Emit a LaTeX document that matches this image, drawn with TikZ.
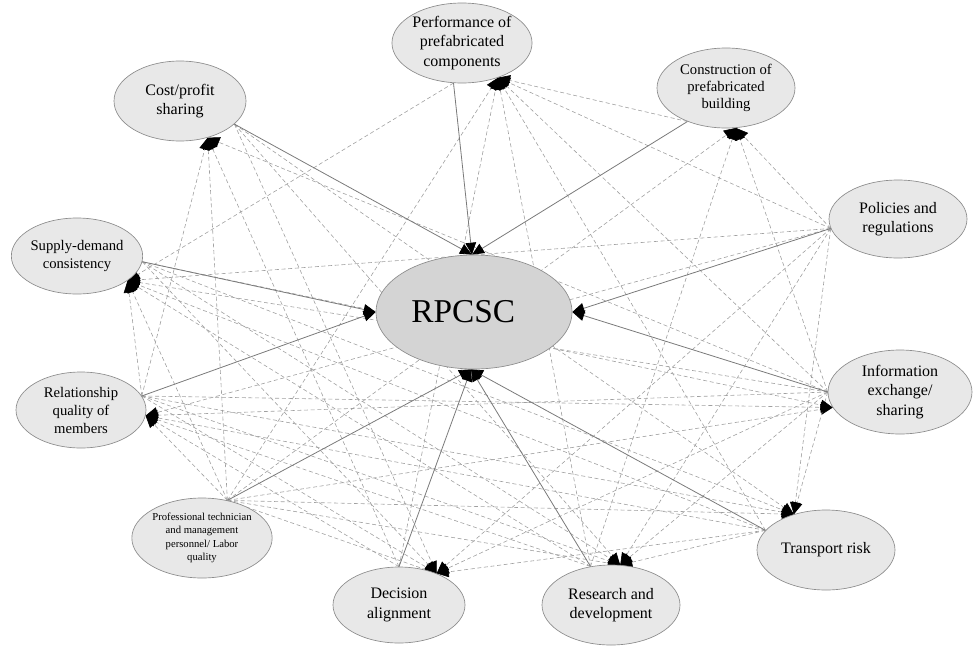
\documentclass[tikz,border=0pt]{standalone}
\usepackage{fontspec}
\setmainfont{Liberation Serif}
\usetikzlibrary{arrows.meta,shapes.geometric,backgrounds}
\definecolor{FacFill}{HTML}{E8E8E8}
\definecolor{CoreFill}{HTML}{D4D4D4}
\definecolor{RimGray}{HTML}{8C8C8C}
\definecolor{LinkGray}{HTML}{A0A0A0}
\definecolor{SolidGray}{HTML}{7A7A7A}

\begin{document}
\begin{tikzpicture}[x=0.75pt,y=-0.75pt,
    factor/.style={ellipse,draw=RimGray,fill=FacFill,inner sep=0pt,align=center,
      line width=0.5pt,font=\fontsize{12}{14.5}\selectfont},
    core/.style={factor,fill=CoreFill,font=\fontsize{25}{30}\selectfont},
    solidarr/.style={-{Triangle[length=9pt,width=8pt,color=black]},
      color=SolidGray,line width=0.6pt},
    dasharr/.style={-{Triangle[length=9pt,width=8pt,color=black]},
      color=LinkGray,line width=0.45pt,dash pattern=on 3pt off 2pt}
  ]
  \useasboundingbox (0,0) rectangle (973,646);

  % factors
  \node[core,minimum width=147pt,minimum height=85.5pt] (rpcsc) at (474,312) {RPCSC\hspace*{16pt}};
  \node[factor,minimum width=99pt,minimum height=60pt] (cost) at (180,101) {Cost/profit\\sharing};
  \node[factor,minimum width=105pt,minimum height=60pt] (perf) at (462,43)
    {Performance of\\prefabricated\\components};
  \node[factor,minimum width=103.5pt,minimum height=60pt,font=\fontsize{11}{13}\selectfont]
    (constr) at (726,88) {Construction of\\prefabricated\\building};
  \node[factor,minimum width=103.5pt,minimum height=58.5pt] (policy) at (898,219)
    {Policies and\\regulations};
  \node[factor,minimum width=97.5pt,minimum height=57pt,font=\fontsize{11}{13.5}\selectfont]
    (supply) at (77,256) {Supply-demand\\consistency};
  \node[factor,minimum width=97.5pt,minimum height=57pt,font=\fontsize{11}{13.5}\selectfont]
    (relat) at (81,410) {Relationship\\quality of\\members};
  \node[factor,minimum width=108pt,minimum height=63pt] (info) at (900,392)
    {Information\\exchange/\\sharing};
  \node[factor,minimum width=103.5pt,minimum height=60pt,font=\fontsize{8}{10}\selectfont]
    (prof) at (202,538) {Professional technician\\and management\\personnel/ Labor\\quality};
  \node[factor,minimum width=99pt,minimum height=57pt] (decis) at (399,605) {Decision\\alignment};
  \node[factor,minimum width=103.5pt,minimum height=60pt] (rnd) at (611,605)
    {Research and\\development};
  \node[factor,minimum width=103.5pt,minimum height=60pt] (transp) at (826,550) {Transport risk};

  % where links leave and arrive
  \foreach \n/\a in {cost/-23,perf/-102,constr/-139,policy/-172,supply/-5,relat/13,
      info/180,prof/56,decis/90,rnd/118,transp/162}
    \coordinate (\n-o) at (\n.\a);
  \foreach \n/\a in {cost/-53,perf/-44,constr/-76,supply/-26,relat/-5,info/-167,
      transp/132,decis/40,rnd/77}
    \coordinate (\n-i) at (\n.\a);

  \begin{scope}[on background layer]
    % mutual influences
    \foreach \s/\t in {prof/cost,prof/supply,prof/relat,prof/perf,prof/constr,prof/info,
        prof/transp,prof/decis,prof/rnd,
        policy/perf,policy/constr,policy/relat,policy/supply,policy/transp,policy/rnd,policy/decis,
        info/cost,info/supply,info/constr,info/perf,info/transp,info/rnd,info/relat,info/decis,
        relat/cost,relat/supply,relat/info,relat/transp,relat/decis,relat/rnd,
        decis/perf,decis/cost,decis/relat,
        rnd/perf,rnd/constr,rnd/supply,rnd/relat,
        transp/perf,transp/supply,transp/relat,transp/decis,transp/rnd,
        cost/rnd,cost/decis,cost/transp,
        supply/info,supply/transp,supply/decis,supply/rnd,
        perf/supply,constr/perf}
      \draw[dasharr] (\s-o) -- (\t-i);
    % direct effects on RPCSC
    \foreach \s/\a in {cost/92,perf/92,constr/92,supply/180,relat/180,policy/0,info/0,
        prof/-93,decis/-93,rnd/-93,transp/-93}
      \draw[solidarr] (\s-o) -- (rpcsc.\a);
  \end{scope}
\end{tikzpicture}
\end{document}
